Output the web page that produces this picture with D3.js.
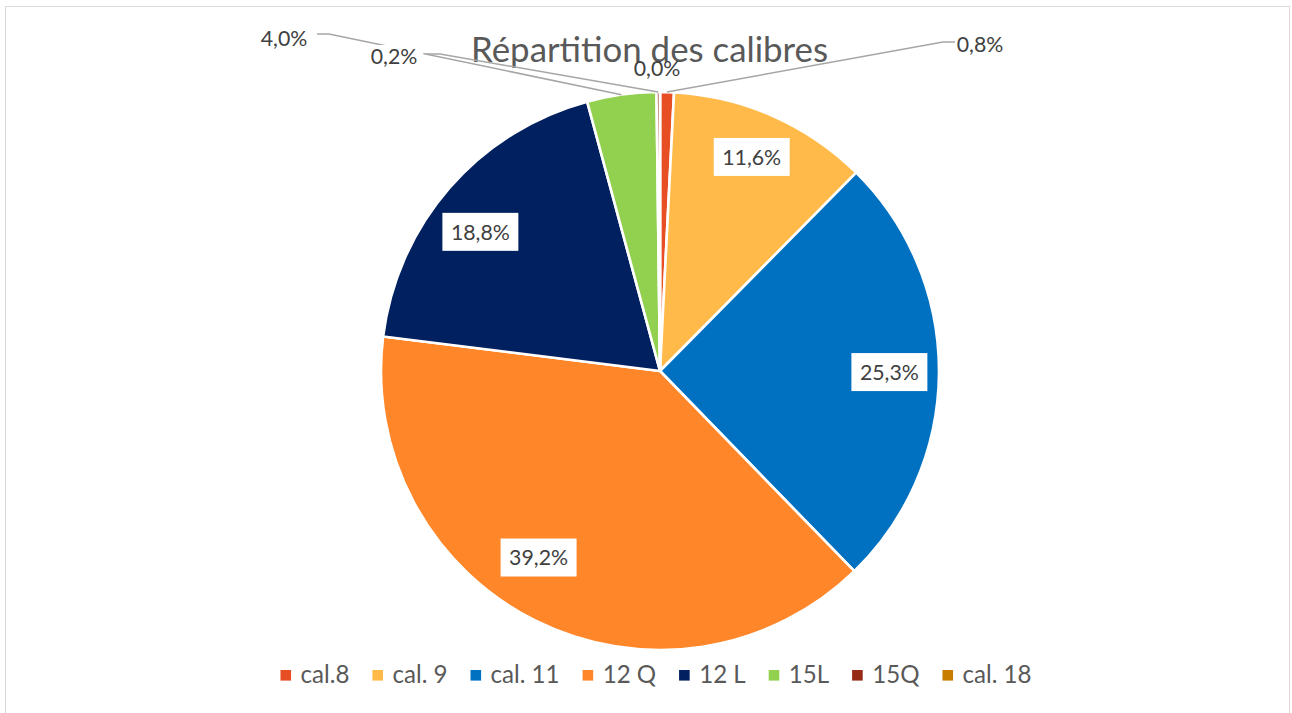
<!DOCTYPE html>
<html><head><meta charset="utf-8">
<script src="https://cdn.jsdelivr.net/npm/d3@7"></script>
<style>
html,body{margin:0;padding:0;background:#fff;}
svg{display:block;font-family:Lato,"Open Sans",sans-serif;}
</style></head>
<body><svg id="chart" width="1292" height="713"></svg>
<script>
// ---- data ----
const categories = ["cal.8","cal. 9","cal. 11","12 Q","12 L","15L","15Q","cal. 18"];
const values = [0.8, 11.6, 25.3, 39.2, 18.8, 4.0, 0.2, 0.0];
const colors = ["#E84E24","#FFBA49","#0070C0","#FF8629","#00205F","#92D050","#962C15","#C87D00"];
const title = "Répartition des calibres";
// ---- layout ----
const W = 1292, H = 713;
const cx = 660, cy = 371, R = 279;
const svg = d3.select("#chart");
const fmt = v => v.toFixed(1).replace(".", ",") + "%";

function fitSize(text, target, base) {
  const t = svg.append("text").attr("font-size", base).text(text);
  const w = t.node().getComputedTextLength();
  t.remove();
  return base * target / w;
}
const labelSize = fitSize("39,2%", 59, 20);
const legendSize = fitSize("cal. 18", 69, 20);
const titleSize = fitSize(title, 357, 30);

// border
svg.append("rect").attr("x", 5.5).attr("y", 6.5).attr("width", 1284).attr("height", 720)
  .attr("fill", "#fff").attr("stroke", "#D9D9D9").attr("stroke-width", 1);

// title
svg.append("text").attr("x", 649.5).attr("y", 62).attr("text-anchor", "middle")
  .attr("font-size", titleSize).attr("fill", "#595959").text(title);

// pie
const pie = d3.pie().sort(null).value(d => d)(values);
const arc = d3.arc().innerRadius(0).outerRadius(R);
const g = svg.append("g").attr("transform", `translate(${cx},${cy})`);
g.selectAll("path").data(pie).join("path")
  .attr("d", arc).attr("fill", (d, i) => colors[i])
  .attr("stroke", "#fff").attr("stroke-width", 2.6).attr("stroke-linejoin", "round");

// inside labels (big slices), with best-fit nudges (layout)
const nudges = {1: [0, -6], 2: [2, 0], 3: [-20, -17], 4: [-8, 10]};
const inner = d3.arc().innerRadius(R * 0.815).outerRadius(R * 0.815);
pie.forEach((d, i) => {
  if (d.data < 10) return;
  const [x, y] = inner.centroid(d);
  const n = nudges[i] || [0, 0];
  const lg = g.append("g").attr("transform", `translate(${x + n[0]},${y + n[1]})`);
  const t = lg.append("text").attr("text-anchor", "middle").attr("dy", "0.36em")
    .attr("font-size", labelSize).attr("fill", "#404040").text(fmt(d.data));
  const w = t.node().getComputedTextLength();
  lg.insert("rect", "text").attr("x", -w / 2 - 8.5).attr("y", -19).attr("width", w + 17).attr("height", 38).attr("fill", "#fff");
});

// outside labels for small slices: label anchor (layout) and elbow
const outside = [
  {i: 5, lx: 284, ly: 38, ex: 329, ey: 34, hx: 317},
  {i: 6, lx: 394, ly: 56, ex: 440, ey: 54, hx: 426},
  {i: 0, lx: 980, ly: 44, ex: 943, ey: 42, hx: 955},
  {i: 7, lx: 657, ly: 68, ex: null}
];
const lines = svg.append("g");
const labs = svg.append("g");
outside.forEach(o => {
  const d = pie[o.i];
  const a = (d.startAngle + d.endAngle) / 2;
  const px = cx + R * Math.sin(a), py = cy - R * Math.cos(a);
  if (o.ex !== null) {
    lines.append("polyline").attr("points", `${o.hx},${o.ey} ${o.ex},${o.ey} ${px},${py}`)
      .attr("fill", "none").attr("stroke", "#A6A6A6").attr("stroke-width", 1.5);
  }
  const lg = labs.append("g").attr("transform", `translate(${o.lx},${o.ly})`);
  const t = lg.append("text").attr("text-anchor", "middle").attr("dy", "0.36em")
    .attr("font-size", labelSize).attr("fill", "#404040").text(fmt(d.data));
  const w = t.node().getComputedTextLength();
  if (o.i === 6) lg.insert("rect", "text").attr("x", -w / 2 - 6).attr("y", -11).attr("width", w + 12).attr("height", 23).attr("fill", "#fff");
});

// legend
const leg = svg.append("g");
const items = categories.map((c, i) => {
  const t = leg.append("text").attr("font-size", legendSize).attr("fill", "#595959").text(c);
  return {t, w: t.node().getComputedTextLength(), i};
});
const sq = 10.6, gapIn = 9.5, gapOut = 23;
const total = d3.sum(items, d => sq + gapIn + d.w) + gapOut * (items.length - 1);
let x = 656 - total / 2;
items.forEach(d => {
  leg.append("rect").attr("x", x).attr("y", 670).attr("width", sq).attr("height", sq).attr("fill", colors[d.i]);
  d.t.attr("x", x + sq + gapIn).attr("y", 683);
  x += sq + gapIn + d.w + gapOut;
});
</script></body></html>
